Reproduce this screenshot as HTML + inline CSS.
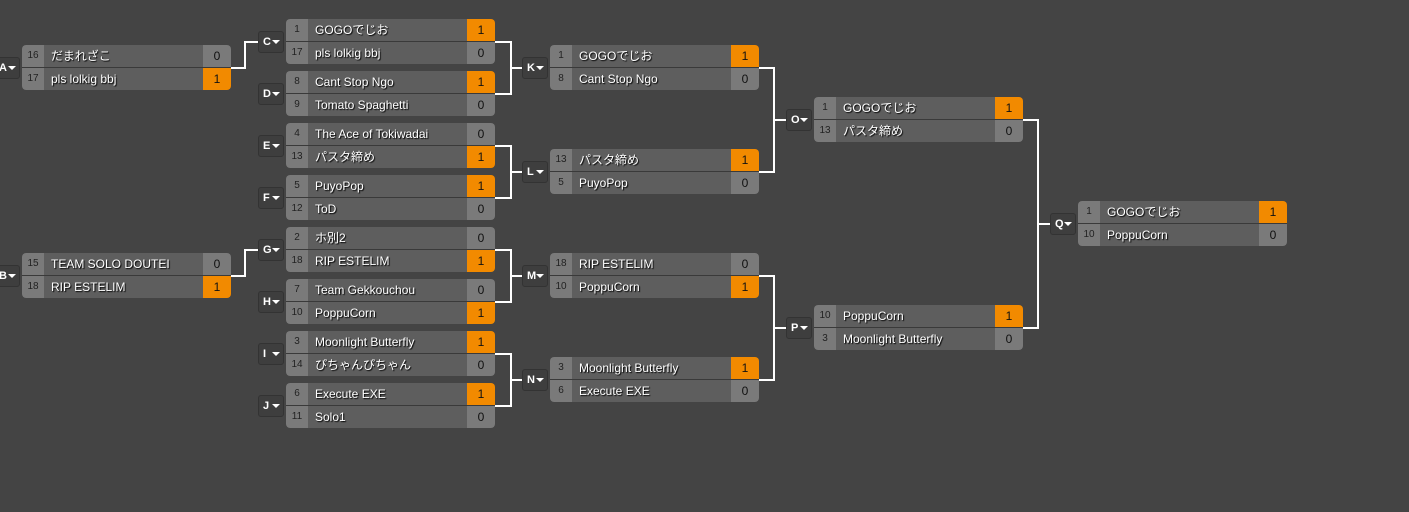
<!DOCTYPE html>
<html><head><meta charset="utf-8"><style>
html,body{margin:0;padding:0;background:#444;width:1409px;height:512px;overflow:hidden;font-family:"Liberation Sans","Noto Sans CJK JP",sans-serif}
.m{position:absolute;width:209px;height:45px;border-radius:4px;overflow:hidden;background:#3a3a3a}
.r{position:absolute;left:0;width:209px;height:22px;display:flex}
.s{width:22px;background:#7a7a7a;color:#222;font-size:10px;text-align:center;line-height:22px}
.n{flex:1;background:#5e5e5e;color:#fff;font-size:12px;line-height:22px;padding-left:7px;text-shadow:1px 1px 1px #000;white-space:nowrap}
.c{width:28px;background:#7a7a7a;color:#111;font-size:12px;text-align:center;line-height:22px}
.c.w{background:#f28a00}
.l{position:absolute;width:24px;height:20px;border:1px solid #333;border-radius:3px;background:#3e3e3e;color:#fff;font-size:11px;font-weight:bold;line-height:20px;text-align:left;padding-left:4px;box-sizing:border-box;box-sizing:content-box;width:20px}
.l:after{content:"";position:absolute;right:3px;top:8px;border-left:4px solid transparent;border-right:4px solid transparent;border-top:4px solid #fff}
svg{position:absolute;left:0;top:0}
</style></head><body>
<svg width="1409" height="512"><g stroke="#fff" stroke-width="2" fill="none">
<polyline points="231,68 245,68 245,42 258,42"/>
<polyline points="231,276 245,276 245,250 258,250"/>
<polyline points="495,42 511,42 511,94 495,94"/><line x1="511" y1="68" x2="522" y2="68"/>
<polyline points="495,146 511,146 511,198 495,198"/><line x1="511" y1="172" x2="522" y2="172"/>
<polyline points="495,250 511,250 511,302 495,302"/><line x1="511" y1="276" x2="522" y2="276"/>
<polyline points="495,354 511,354 511,406 495,406"/><line x1="511" y1="380" x2="522" y2="380"/>
<polyline points="759,68 774,68 774,172 759,172"/><line x1="774" y1="120" x2="786" y2="120"/>
<polyline points="759,276 774,276 774,380 759,380"/><line x1="774" y1="328" x2="786" y2="328"/>
<polyline points="1023,120 1038,120 1038,328 1023,328"/><line x1="1038" y1="224" x2="1050" y2="224"/>
</g></svg>
<div id="root"></div>
<script>
var M=[
["A",22,45,["16","だまれざこ","0",0],["17","pls lolkig bbj","1",1]],
["B",22,253,["15","TEAM SOLO DOUTEI","0",0],["18","RIP ESTELIM","1",1]],
["C",286,19,["1","GOGOでじお","1",1],["17","pls lolkig bbj","0",0]],
["D",286,71,["8","Cant Stop Ngo","1",1],["9","Tomato Spaghetti","0",0]],
["E",286,123,["4","The Ace of Tokiwadai","0",0],["13","パスタ締め","1",1]],
["F",286,175,["5","PuyoPop","1",1],["12","ToD","0",0]],
["G",286,227,["2","ホ別2","0",0],["18","RIP ESTELIM","1",1]],
["H",286,279,["7","Team Gekkouchou","0",0],["10","PoppuCorn","1",1]],
["I",286,331,["3","Moonlight Butterfly","1",1],["14","ぴちゃんぴちゃん","0",0]],
["J",286,383,["6","Execute EXE","1",1],["11","Solo1","0",0]],
["K",550,45,["1","GOGOでじお","1",1],["8","Cant Stop Ngo","0",0]],
["L",550,149,["13","パスタ締め","1",1],["5","PuyoPop","0",0]],
["M",550,253,["18","RIP ESTELIM","0",0],["10","PoppuCorn","1",1]],
["N",550,357,["3","Moonlight Butterfly","1",1],["6","Execute EXE","0",0]],
["O",814,97,["1","GOGOでじお","1",1],["13","パスタ締め","0",0]],
["P",814,305,["10","PoppuCorn","1",1],["3","Moonlight Butterfly","0",0]],
["Q",1078,201,["1","GOGOでじお","1",1],["10","PoppuCorn","0",0]]];
var h="";
M.forEach(function(m){
 h+='<div class="l" style="left:'+(m[1]-28)+'px;top:'+(m[2]+12)+'px">'+m[0]+'</div>';
 h+='<div class="m" style="left:'+m[1]+'px;top:'+m[2]+'px">';
 [m[3],m[4]].forEach(function(r,i){
  h+='<div class="r" style="top:'+(i*23)+'px"><div class="s">'+r[0]+'</div><div class="n">'+r[1]+'</div><div class="c'+(r[3]?' w':'')+'">'+r[2]+'</div></div>';
 });
 h+='</div>';
});
document.getElementById("root").innerHTML=h;
</script>
</body></html>
